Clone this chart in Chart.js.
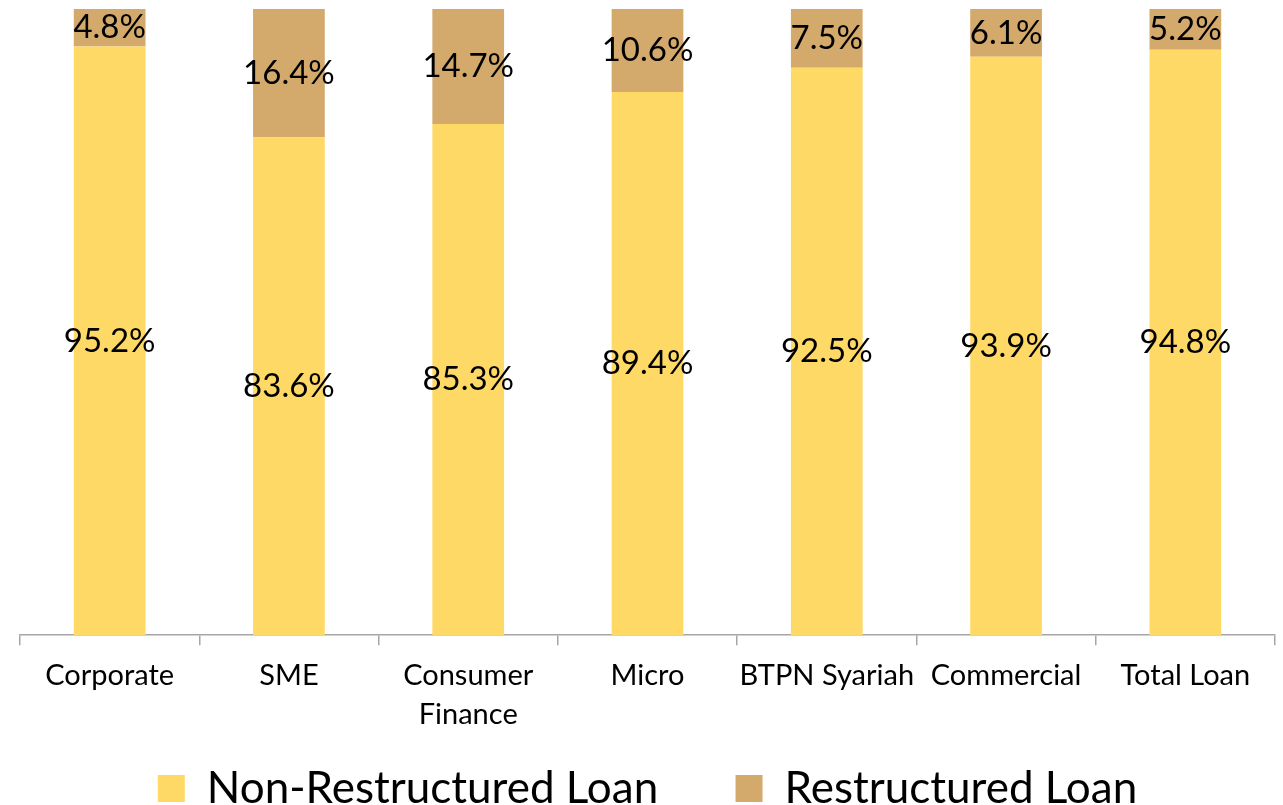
<!DOCTYPE html>
<html>
<head>
<meta charset="utf-8">
<script src="https://cdn.jsdelivr.net/npm/chart.js@4"></script>
<style>
  html, body { margin: 0; padding: 0; background: #fff; }
  #wrap { width: 1283px; height: 805px; }
</style>
</head>
<body>
<div id="wrap"><canvas id="grafica"></canvas></div>
<script>
const categorias = ['Corporate', 'SME', ['Consumer', 'Finance'], 'Micro', 'BTPN Syariah', 'Commercial', 'Total Loan'];
const noReestructurado = [95.2, 83.6, 85.3, 89.4, 92.5, 93.9, 94.8];
const reestructurado = [4.8, 16.4, 14.7, 10.6, 7.5, 6.1, 5.2];

const FUENTE = 'Lato, "Open Sans", sans-serif';

// etiquetas en el centro de la parte visible de cada barra
const etiquetasBarras = {
    id: 'etiquetasBarras',
    afterDatasetsDraw(chart) {
        const { ctx, chartArea } = chart;
        ctx.save();
        ctx.font = '33px ' + FUENTE;
        ctx.fillStyle = '#000';
        ctx.textAlign = 'center';
        ctx.textBaseline = 'middle';
        chart.data.datasets.forEach((ds, i) => {
            chart.getDatasetMeta(i).data.forEach((bar, j) => {
                const p = bar.getProps(['x', 'y', 'base'], true);
                const arriba = Math.max(Math.min(p.y, p.base), chartArea.top);
                const abajo = Math.min(Math.max(p.y, p.base), chartArea.bottom);
                ctx.fillText(ds.data[j].toFixed(1) + '%', p.x, (arriba + abajo) / 2);
            });
        });
        ctx.restore();
    }
};

const ctx = document.getElementById('grafica').getContext('2d');

new Chart(ctx, {
    type: 'bar',
    data: {
        labels: categorias,
        datasets: [
            {
                label: 'Non-Restructured Loan',
                backgroundColor: '#FFD966',
                data: noReestructurado
            },
            {
                label: 'Restructured Loan',
                backgroundColor: '#D4A96C',
                data: reestructurado
            }
        ]
    },
    options: {
        responsive: true,
        maintainAspectRatio: false,
        animation: false,
        layout: {
            padding: { left: 20, right: 8, top: 9, bottom: -15.5 }
        },
        datasets: {
            bar: { barPercentage: 1, categoryPercentage: 0.4 }
        },
        scales: {
            x: {
                stacked: true,
                grid: {
                    offset: true,
                    drawOnChartArea: false,
                    drawTicks: true,
                    tickLength: 10,
                    color: '#A6A6A6',
                    lineWidth: 1.5
                },
                border: { display: true, color: '#A6A6A6', width: 1.5 },
                ticks: {
                    color: '#000',
                    padding: 11,
                    maxRotation: 0,
                    autoSkip: false,
                    font: { family: FUENTE, size: 29, lineHeight: 1.35 }
                }
            },
            y: {
                stacked: true,
                display: false,
                min: 20,
                max: 100
            }
        },
        plugins: {
            legend: {
                position: 'bottom',
                labels: {
                    color: '#000',
                    boxWidth: 27,
                    boxHeight: 27,
                    padding: 21,
                    font: { family: FUENTE, size: 44 },
                    // mas espacio entre las dos entradas de la leyenda
                    generateLabels(chart) {
                        const items = Chart.defaults.plugins.legend.labels.generateLabels(chart);
                        items[0].text = items[0].text + '     ';
                        return items;
                    }
                }
            },
            tooltip: { enabled: false }
        }
    },
    plugins: [etiquetasBarras]
});
</script>
</body>
</html>
